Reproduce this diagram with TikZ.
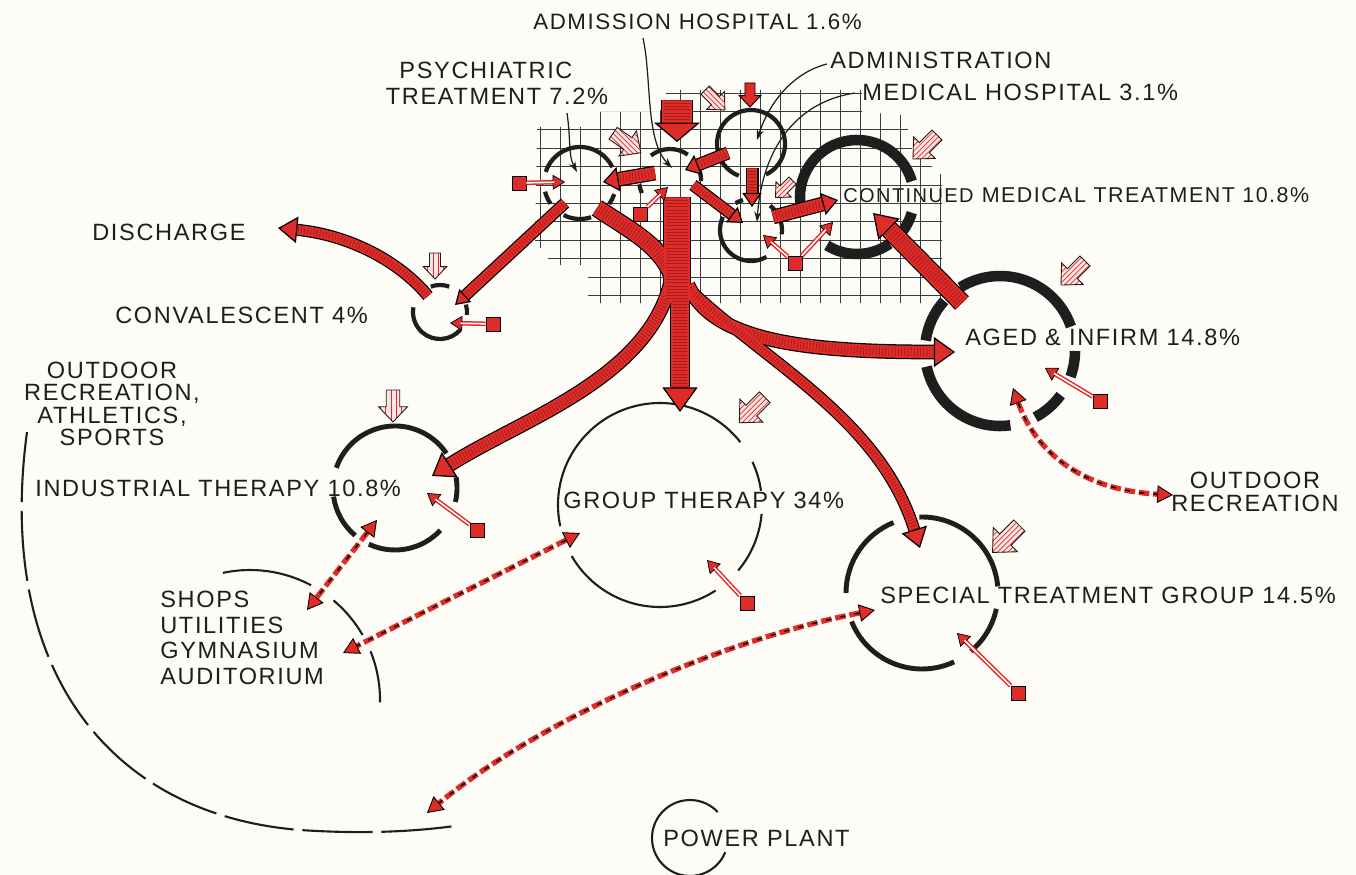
\documentclass[tikz,border=0pt]{standalone}
\usepackage{fontspec}
\setmainfont{Liberation Sans}[LetterSpace=7]
\usetikzlibrary{arrows.meta,patterns}
\definecolor{paper}{RGB}{253,252,246}
\definecolor{ared}{RGB}{224,44,40}
\definecolor{dred}{RGB}{165,30,28}
\definecolor{pinkbg}{RGB}{252,228,226}
\definecolor{ink}{RGB}{30,30,30}
\definecolor{gridc}{RGB}{60,60,60}
\tikzset{
 lbl/.style={font=\fontsize{13.4}{14.6}\selectfont, text=ink, inner sep=0pt},
 gridline/.style={line width=0.45pt, draw=gridc},
 thinring/.style={line width=1.2pt, draw=ink},
 midring/.style={line width=2.8pt, draw=ink},
 smallring/.style={line width=2.4pt, draw=ink},
 fatring/.style={line width=6pt, draw=ink},
 leader/.style={line width=0.7pt, draw=ink, -{Stealth[length=6pt,width=4pt]}},
 outl/.style 2 args={draw=black, line width=#1+1.4pt, shorten >=#2},
 tex/.style 2 args={postaction={draw=dred, line width=#1-2pt, dash pattern=on 0.45pt off 1.35pt, arrows=-, shorten >=#2}},
 redl/.style n args={3}{draw=ared, line width=#1, -{Triangle[length=#2,width=#3,fill=ared,color=black,line width=0.7pt]}, tex={#1}{#2}},
 bigarr/.style n args={3}{redl={#1}{#2}{#3}, preaction={outl={#1}{#2}, arrows=-}},
 dbl/.style={draw=ared, line width=3pt, dash pattern=on 6pt off 2.2pt,
   {Triangle[length=9pt,width=10pt,fill=ared,color=black,line width=0.5pt]}-{Triangle[length=9pt,width=10pt,fill=ared,color=black,line width=0.5pt]},
   postaction={draw=black, line width=0.8pt, dash pattern=on 3pt off 5.2pt, arrows=-, shorten <=9pt, shorten >=9pt}},
 feed/.style={draw=ared, line width=2.6pt, -{Triangle[length=7pt,width=8.5pt,fill=ared,color=black,line width=0.4pt]},
   postaction={draw=white, line width=0.9pt, arrows=-, shorten >=6pt}},
 sq/.style={rectangle, fill=ared, draw=black, line width=0.4pt, minimum size=8pt, inner sep=0pt},
}
% striped input arrow: x, y, rotation, pattern, half length (px)
\newcommand\inarrow[5]{%
 \begin{scope}[shift={(#1,#2)},rotate=#3,scale=#5]
 \draw[line width=0.5pt, draw=ink, preaction={fill=pinkbg}, pattern=#4, pattern color=ared]
   (-1,-0.42) -- (0.05,-0.42) -- (0.05,-0.9) -- (1,0) -- (0.05,0.9) -- (0.05,0.42) -- (-1,0.42) -- cycle;
 \end{scope}}
\begin{document}
\begin{tikzpicture}[x=0.02cm,y=-0.02cm]
\useasboundingbox (0,0) rectangle (1356,875);
\fill[paper] (0,0) rectangle (1356,875);

% ---------- grid ----------
\begin{scope}
\clip (537,127) -- (600,127) -- (600,112) -- (660,112) -- (667,90) -- (862,90) -- (862,112) -- (905,115) -- (912,150) -- (942,175) -- (942,303) -- (588,303) -- (588,265) -- (548,265) -- (548,248) -- (535,248) -- cycle;
\foreach \x in {540,560,...,940} \draw[gridline] (\x,80) -- (\x,310);
\foreach \y in {93,111.4,...,300} \draw[gridline] (530,\y) -- (950,\y);
\end{scope}

% ---------- centres ----------
\coordinate (psyC) at (580,183);
\coordinate (admC) at (670,180);
\coordinate (adiC) at (751,144);
\coordinate (medC) at (751,230);
\coordinate (conC) at (857,197);
\coordinate (cvlC) at (440,312);
\coordinate (ageC) at (1000,351);
\coordinate (indC) at (395,488);
\coordinate (grpC) at (660,505);
\coordinate (spcC) at (922,593);
\coordinate (shpC) at (250,700);
\coordinate (pwrC) at (690,838);

% ---------- rings ----------
\draw[smallring] foreach \s/\e in {198/334,145/166,72/117,18/36} {(psyC) ++(\s:36) arc[start angle=\s,end angle=\e,radius=36]};
\draw[smallring] foreach \s/\e in {232/305,340/362,155/172} {(admC) ++(\s:31) arc[start angle=\s,end angle=\e,radius=31]};
\draw[smallring] (adiC) ++(111:34) arc[start angle=111,end angle=424,radius=34];
\draw[smallring] foreach \s/\e in {60/205,-52/8,240/255} {(medC) ++(\s:31) arc[start angle=\s,end angle=\e,radius=31]};
\draw[fatring] foreach \s/\e in {55/122,168/344,16/45} {(conC) ++(\s:57) arc[start angle=\s,end angle=\e,radius=57]};
\draw[smallring] foreach \s/\e in {250/290,41/190,-16/6} {(cvlC) ++(\s:27) arc[start angle=\s,end angle=\e,radius=27]};
\draw[fatring] foreach \s/\e in {238/341,0/20,36/62,82/168,188/222} {(ageC) ++(\s:75) arc[start angle=\s,end angle=\e,radius=75]};
\draw[midring] foreach \s/\e in {199/326,-10/13,43/115,130/172} {(indC) ++(\s:62) arc[start angle=\s,end angle=\e,radius=62]};
\draw[thinring] foreach \s/\e in {168/322,335/352,5/40,57/150} {(grpC) ++(\s:102) arc[start angle=\s,end angle=\e,radius=102]};
\draw[midring] foreach \s/\e in {180/248,268/355,12/50,65/158} {(spcC) ++(\s:76) arc[start angle=\s,end angle=\e,radius=76]};
\draw[thinring] foreach \s/\e in {258/298,310/330,338/361} {(shpC) ++(\s:130) arc[start angle=\s,end angle=\e,radius=130]};
\draw[thinring] (pwrC) ++(317:38) arc[start angle=317,end angle=22,radius=38];
\coordinate (outA) at (27,432);
\coordinate (outB) at (455,826);
\draw[thinring, dash pattern=on 40pt off 5pt] (outA) .. controls (-5,670) and (110,815) .. (300,830) .. controls (360,834) and (410,832) .. (outB);

% ---------- leaders ----------
\coordinate (lAdm0) at (643,38);  \coordinate (lAdm1) at (672,168);
\coordinate (lPsy0) at (567,113); \coordinate (lPsy1) at (577,172);
\coordinate (lAdi0) at (827,64);  \coordinate (lAdi1) at (757,140);
\coordinate (lMed0) at (855,93);  \coordinate (lMed1) at (757,222);
\draw[leader] (lAdm0) .. controls (652,80) and (645,140) .. (lAdm1);
\draw[leader] (lPsy0) .. controls (571,140) and (568,155) .. (lPsy1);
\draw[leader] (lAdi0) .. controls (795,72) and (770,100) .. (lAdi1);
\draw[leader] (lMed0) .. controls (795,102) and (762,150) .. (lMed1);

% ---------- tree of flows ----------
\coordinate (tr0) at (677,197);
\coordinate (tr1) at (677,300);
\coordinate (bPsy) at (597,208);
\coordinate (bJoin) at (672,275);
\coordinate (bG0) at (680,285); \coordinate (bG1) at (680,412);
\coordinate (bI0) at (670,285); \coordinate (bI1) at (432,476);
\coordinate (bA0) at (688,285); \coordinate (bA1) at (955,352);
\coordinate (bS0) at (690,290); \coordinate (bS1) at (920,548);
% outline layer
\draw[outl={15pt}{0pt}] (tr0) -- (tr1);
\draw[outl={9pt}{0pt}] (bPsy) .. controls (630,230) and (660,245) .. (bJoin);
\draw[outl={10pt}{14pt}] (bG0) -- (bG1);
\draw[outl={7pt}{12pt}] (bI0) .. controls (645,380) and (520,420) .. (bI1);
\draw[outl={7pt}{12pt}] (bA0) .. controls (712,340) and (800,352) .. (bA1);
\draw[outl={5.5pt}{11pt}] (bS0) .. controls (770,365) and (880,420) .. (bS1);
% red layer
\draw[redl={10pt}{14pt}{20pt}] (bG0) -- (bG1);
\draw[redl={7pt}{12pt}{17pt}] (bI0) .. controls (645,380) and (520,420) .. (bI1);
\draw[redl={7pt}{12pt}{17pt}] (bA0) .. controls (712,340) and (800,352) .. (bA1);
\draw[redl={5.5pt}{11pt}{15pt}] (bS0) .. controls (770,365) and (880,420) .. (bS1);
\draw[draw=ared, line width=9pt, tex={9pt}{0pt}] (bPsy) .. controls (630,230) and (660,245) .. (bJoin);
\draw[draw=ared, line width=15pt, tex={15pt}{0pt}] (tr0) -- (tr1);

% ---------- other big arrows ----------
\coordinate (aIn0) at (677,100); \coordinate (aIn1) at (677,142);
\draw[bigarr={17pt}{11pt}{26pt}] (aIn0) -- (aIn1);
\coordinate (ap0) at (655,173); \coordinate (ap1) at (603,182);
\draw[bigarr={7pt}{9pt}{14pt}] (ap0) -- (ap1);
\coordinate (ia0) at (728,153); \coordinate (ia1) at (685,170);
\draw[bigarr={6pt}{8pt}{12pt}] (ia0) -- (ia1);
\coordinate (im0) at (752,168); \coordinate (im1) at (752,207);
\draw[bigarr={6pt}{8pt}{11pt}] (im0) -- (im1);
\coordinate (am0) at (693,185); \coordinate (am1) at (743,223);
\draw[bigarr={5.5pt}{8pt}{11pt}] (am0) -- (am1);
\coordinate (mc0) at (773,217); \coordinate (mc1) at (838,200);
\draw[bigarr={7pt}{9pt}{13pt}] (mc0) -- (mc1);
\coordinate (pc0) at (565,203); \coordinate (pc1) at (455,305);
\draw[bigarr={5.5pt}{8pt}{10pt}] (pc0) -- (pc1);
\coordinate (ac0) at (962,303); \coordinate (ac1) at (873,213);
\draw[bigarr={9.5pt}{13pt}{17pt}] (ac0) -- (ac1);
\coordinate (dc0) at (428,296); \coordinate (dc1) at (278,228);
\draw[bigarr={5.5pt}{11pt}{15pt}] (dc0) .. controls (400,262) and (350,235) .. (dc1);

% ---------- feed arrows ----------
\node[sq] (fpsy) at (519,183) {}; \coordinate (hpsy) at (565,182);
\node[sq] (fadm) at (640,214) {}; \coordinate (hadm) at (668,187);
\node[sq] (fmed) at (795,263) {}; \coordinate (hmed1) at (763,235); \coordinate (hmed2) at (833,222);
\node[sq] (fcvl) at (493,324) {}; \coordinate (hcvl) at (450,323);
\node[sq] (find) at (477,530) {}; \coordinate (hind) at (427,493);
\node[sq] (fgrp) at (747,603) {}; \coordinate (hgrp) at (707,560);
\node[sq] (fage) at (1100,401) {}; \coordinate (hage) at (1045,368);
\node[sq] (fspc) at (1018,693) {}; \coordinate (hspc) at (957,633);
\draw[feed] (fpsy) -- (hpsy);
\draw[feed] (fadm) -- (hadm);
\draw[feed] (fmed) -- (hmed1);
\draw[feed] (fmed) -- (hmed2);
\draw[feed] (fcvl) -- (hcvl);
\draw[feed] (find) -- (hind);
\draw[feed] (fgrp) -- (hgrp);
\draw[feed] (fage) -- (hage);
\draw[feed] (fspc) -- (hspc);

% ---------- dashed two-way arrows ----------
\coordinate (d1a) at (377,520); \coordinate (d1b) at (307,610);
\coordinate (d2a) at (580,533); \coordinate (d2b) at (343,653);
\coordinate (d3a) at (875,610); \coordinate (d3b) at (427,813);
\coordinate (d4a) at (1013,388); \coordinate (d4b) at (1173,495);
\draw[dbl] (d1a) -- (d1b);
\draw[dbl] (d2a) -- (d2b);
\draw[dbl] (d3a) .. controls (720,640) and (540,720) .. (d3b);
\draw[dbl] (d4a) .. controls (1035,450) and (1080,490) .. (d4b);

% ---------- hatched input arrows ----------
\inarrow{435}{266}{-90}{vertical lines}{13}
\inarrow{393}{406}{-90}{vertical lines}{16}
\inarrow{627}{143}{-35}{north west lines}{17}
\inarrow{715}{100}{-45}{north west lines}{14}
\inarrow{784}{189}{-135}{north east lines}{12}
\inarrow{925}{147}{-135}{north east lines}{17}
\inarrow{1073}{273}{-135}{north east lines}{17}
\inarrow{752}{410}{-135}{north east lines}{18}
\inarrow{1006}{539}{-135}{north east lines}{19}
\begin{scope}[shift={(750,95)},rotate=-90,scale=12]
\draw[line width=0.5pt, draw=black, fill=ared] (-1,-0.42) -- (0.05,-0.42) -- (0.05,-0.9) -- (1,0) -- (0.05,0.9) -- (0.05,0.42) -- (-1,0.42) -- cycle;
\end{scope}

% ---------- labels ----------
\node[lbl, anchor=west, font=\fontsize{12.7}{14}\selectfont] (tAdm) at (533,22) {ADMISSION HOSPITAL 1.6\%};
\node[lbl] (tPsy1) at (486,70) {PSYCHIATRIC};
\node[lbl] (tPsy2) at (497,96) {TREATMENT 7.2\%};
\node[lbl, anchor=west] (tAdi) at (830,60) {ADMINISTRATION};
\node[lbl, anchor=west] (tMed) at (862,92) {MEDICAL HOSPITAL 3.1\%};
\node[lbl, anchor=west] (tCon) at (843,195) {{\fontsize{11.4}{12}\selectfont CONTINUED} {\fontsize{12.2}{14}\selectfont MEDICAL TREATMENT 10.8\%}};
\node[lbl, anchor=west] (tDis) at (92,232) {DISCHARGE};
\node[lbl, anchor=west] (tCvl) at (115,315) {CONVALESCENT 4\%};
\node[lbl, align=center, font=\fontsize{13.4}{12.8}\selectfont] (tOut) at (112,404) {OUTDOOR\\RECREATION,\\ATHLETICS,\\SPORTS};
\node[lbl, anchor=west] (tInd) at (35,488) {INDUSTRIAL THERAPY 10.8\%};
\node[lbl, anchor=west] (tGrp) at (563,500) {GROUP THERAPY 34\%};
\node[lbl, anchor=west] (tAge) at (965,337) {AGED \& INFIRM 14.8\%};
\node[lbl, align=center, font=\fontsize{13.4}{13}\selectfont] (tOR) at (1255,492) {OUTDOOR\\RECREATION};
\node[lbl, anchor=west] (tSpc) at (880,595) {SPECIAL TREATMENT GROUP 14.5\%};
\node[lbl, align=left, anchor=west] (tShp) at (160,638) {SHOPS\\UTILITIES\\GYMNASIUM\\AUDITORIUM};
\node[lbl, anchor=west] (tPwr) at (663,838) {POWER PLANT};
\end{tikzpicture}
\end{document}
